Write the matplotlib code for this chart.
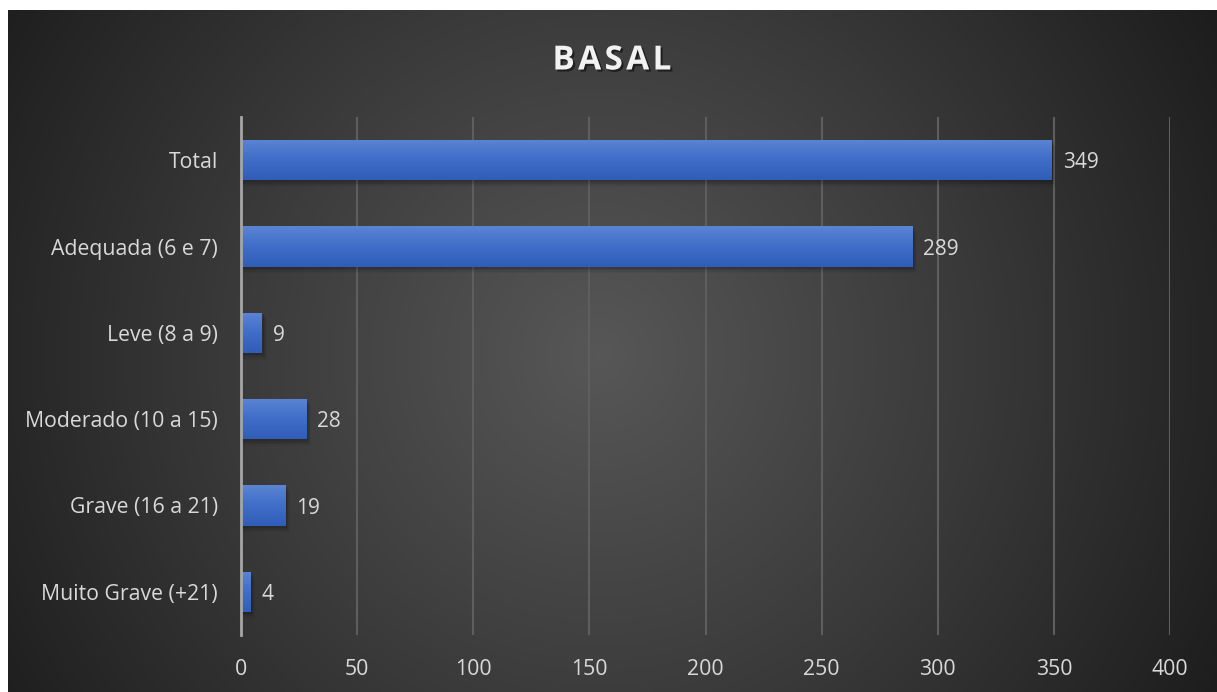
import matplotlib.pyplot as plt
import matplotlib.patheffects as pe
import numpy as np
from matplotlib.colors import LinearSegmentedColormap

categories = ['Total', 'Adequada (6 e 7)', 'Leve (8 a 9)', 'Moderado (10 a 15)',
              'Grave (16 a 21)', 'Muito Grave (+21)']
values = [349, 289, 9, 28, 19, 4]
xticks = [0, 50, 100, 150, 200, 250, 300, 350, 400]

W, H = 1217, 692
fig = plt.figure(figsize=(W / 100, H / 100), dpi=100)
fig.patch.set_facecolor('white')

# dark radial background panel
bg = fig.add_axes([8 / W, 0, 1 - 8 / W, 1 - 10 / H])
bg.set_axis_off()
yy, xx = np.mgrid[0:682, 0:1209]
r = np.hypot(xx - 590, yy - 345) / 780.0
r = np.clip(r, 0, 1)
shade = LinearSegmentedColormap.from_list('shade', ['#575757', '#3b3b3b', '#1d1d1d'])
bg.imshow(r, cmap=shade, aspect='auto', interpolation='bilinear')

ax = fig.add_axes([241 / W, 57 / H, 929 / W, 518 / H])
ax.patch.set_alpha(0)

ypos = np.arange(len(categories))
bar_h = 0.47

# soft shadow under the bars
for y, v in zip(ypos, values):
    for k, a in enumerate([0.10, 0.08, 0.06, 0.04]):
        off = 0.02 + k * 0.018
        ax.add_patch(plt.Rectangle((0, y - bar_h / 2 + off), v + 0.8 + k * 0.4, bar_h,
                                   color='black', alpha=a, lw=0, zorder=2))

bars = ax.barh(ypos, values, height=bar_h, color='#4472c4', zorder=3)

# vertical blue gradient inside each bar (light on top)
grad = np.linspace(0, 1, 64).reshape(-1, 1)
blue = LinearSegmentedColormap.from_list('blue', ['#5b84d3', '#3f6dc8', '#2f5db8'])
for bar in bars:
    x0, y0 = bar.get_x(), bar.get_y()
    w, h = bar.get_width(), bar.get_height()
    im = ax.imshow(grad, cmap=blue, aspect='auto', extent=(x0, x0 + w, y0 + h, y0),
                   origin='upper', zorder=4, interpolation='bilinear')
    im.set_clip_path(bar)

for y, v in zip(ypos, values):
    ax.text(v + 4.8, y, str(v), va='center_baseline', ha='left', color='#d9d9d9',
            fontsize=15, family='Open Sans', zorder=5)

ax.set_xlim(0, 400)
ax.set_ylim(len(categories) - 0.5, -0.5)
ax.set_xticks(xticks)
ax.set_xticklabels([str(t) for t in xticks])
ax.set_yticks(ypos)
ax.set_yticklabels(categories)

ax.grid(axis='x', color='#5e5e5e', lw=1.5, zorder=1)
ax.set_axisbelow(True)
for s in ['top', 'right', 'bottom']:
    ax.spines[s].set_visible(False)
ax.spines['left'].set_color('#a6a6a6')
ax.spines['left'].set_linewidth(2)
ax.spines['left'].set_zorder(6)

ax.tick_params(axis='both', length=0, colors='#d9d9d9', labelsize=15)
ax.tick_params(axis='x', pad=17)
ax.tick_params(axis='y', pad=16.5)
for lab in ax.get_xticklabels() + ax.get_yticklabels():
    lab.set_family('Open Sans')
    lab.set_fontsize(15.3)

fig.text(612 / W, 1 - 57 / H, 'B\u200aA\u200aS\u200aA\u200aL', ha='center', va='center_baseline',
         color='#f2f2f2', fontsize=24, fontweight='bold', family=['Open Sans', 'DejaVu Sans'],
         path_effects=[pe.withSimplePatchShadow(offset=(1.5, -1.5), shadow_rgbFace='black', alpha=0.5)])

fig.savefig('out.png', dpi=100, facecolor=fig.get_facecolor())
